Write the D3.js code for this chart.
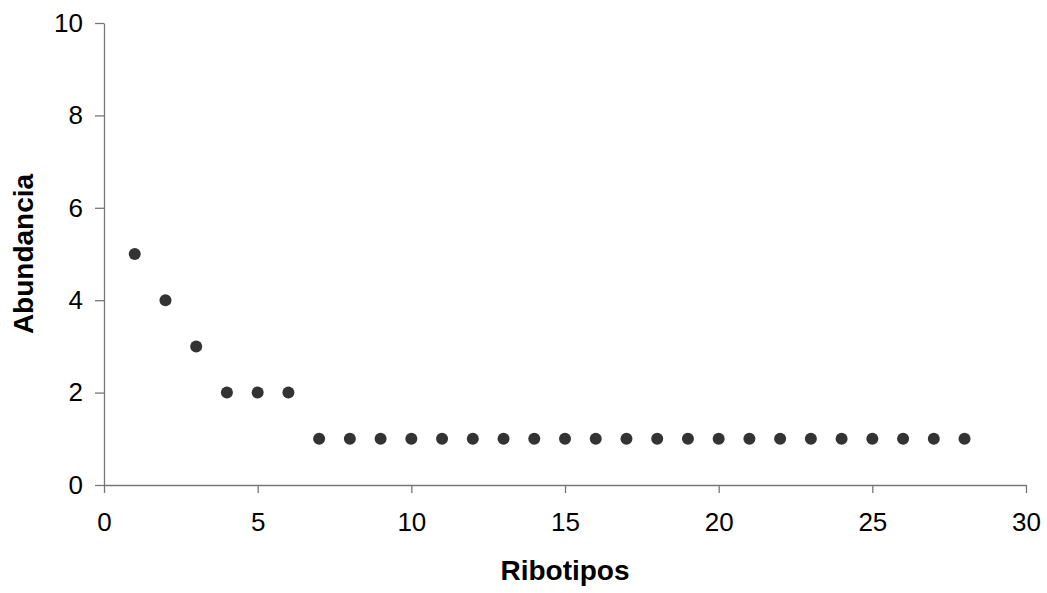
<!DOCTYPE html>
<html lang="es">
<head>
<meta charset="UTF-8">
<title>Abundancia de ribotipos</title>
<script src="https://d3js.org/d3.v7.min.js"></script>
<style>
  body { margin: 0; background: #fff; }
  text { font-family: "Liberation Sans", Arial, sans-serif; }
</style>
</head>
<body>
<div id="chart"></div>
<script>
// datos
const ribotipos = [1, 2, 3, 4, 5, 6, 7, 8, 9, 10, 11, 12, 13, 14, 15, 16, 17, 18, 19, 20, 21, 22, 23, 24, 25, 26, 27, 28];
const abundancia = [5, 4, 3, 2, 2, 2, 1, 1, 1, 1, 1, 1, 1, 1, 1, 1, 1, 1, 1, 1, 1, 1, 1, 1, 1, 1, 1, 1];
const xTicks = [0, 5, 10, 15, 20, 25, 30];
const yTicks = [0, 2, 4, 6, 8, 10];

const W = 1047, H = 593;
const margin = {top: 23, right: 21, bottom: 108, left: 104};

const svg = d3.select("#chart").append("svg")
    .attr("width", W).attr("height", H);

const x = d3.scaleLinear().domain([0, 30]).range([margin.left, W - margin.right]);
const y = d3.scaleLinear().domain([0, 10]).range([H - margin.bottom, margin.top]);

// eje X
const gx = svg.append("g")
    .attr("transform", `translate(0,${H - margin.bottom})`)
    .call(d3.axisBottom(x).tickValues(xTicks).tickSize(8).tickPadding(20).tickSizeOuter(0));

// eje Y
const gy = svg.append("g")
    .attr("transform", `translate(${margin.left},0)`)
    .call(d3.axisLeft(y).tickValues(yTicks).tickSize(9).tickPadding(12).tickSizeOuter(0));

[gx, gy].forEach(g => {
    g.attr("font-size", null).attr("font-family", null);
    g.select(".domain").attr("stroke", "#777").attr("stroke-width", 1.3);
    g.selectAll(".tick line").attr("stroke", "#777").attr("stroke-width", 1.3);
    g.selectAll(".tick text").attr("fill", "#000").style("font-size", "26px");
});

// puntos
svg.append("g").selectAll("circle")
    .data(ribotipos.map((r, i) => ({r, a: abundancia[i]})))
    .join("circle")
    .attr("cx", d => x(d.r))
    .attr("cy", d => y(d.a))
    .attr("r", 6)
    .attr("fill", "#333");

// títulos
svg.append("text")
    .attr("x", (x(0) + x(30)) / 2).attr("y", 580)
    .attr("text-anchor", "middle")
    .style("font-size", "28px").style("font-weight", "bold")
    .text("Ribotipos");

svg.append("text")
    .attr("transform", `translate(33,${(y(0) + y(10)) / 2}) rotate(-90)`)
    .attr("text-anchor", "middle")
    .style("font-size", "28px").style("font-weight", "bold")
    .text("Abundancia");
</script>
</body>
</html>
